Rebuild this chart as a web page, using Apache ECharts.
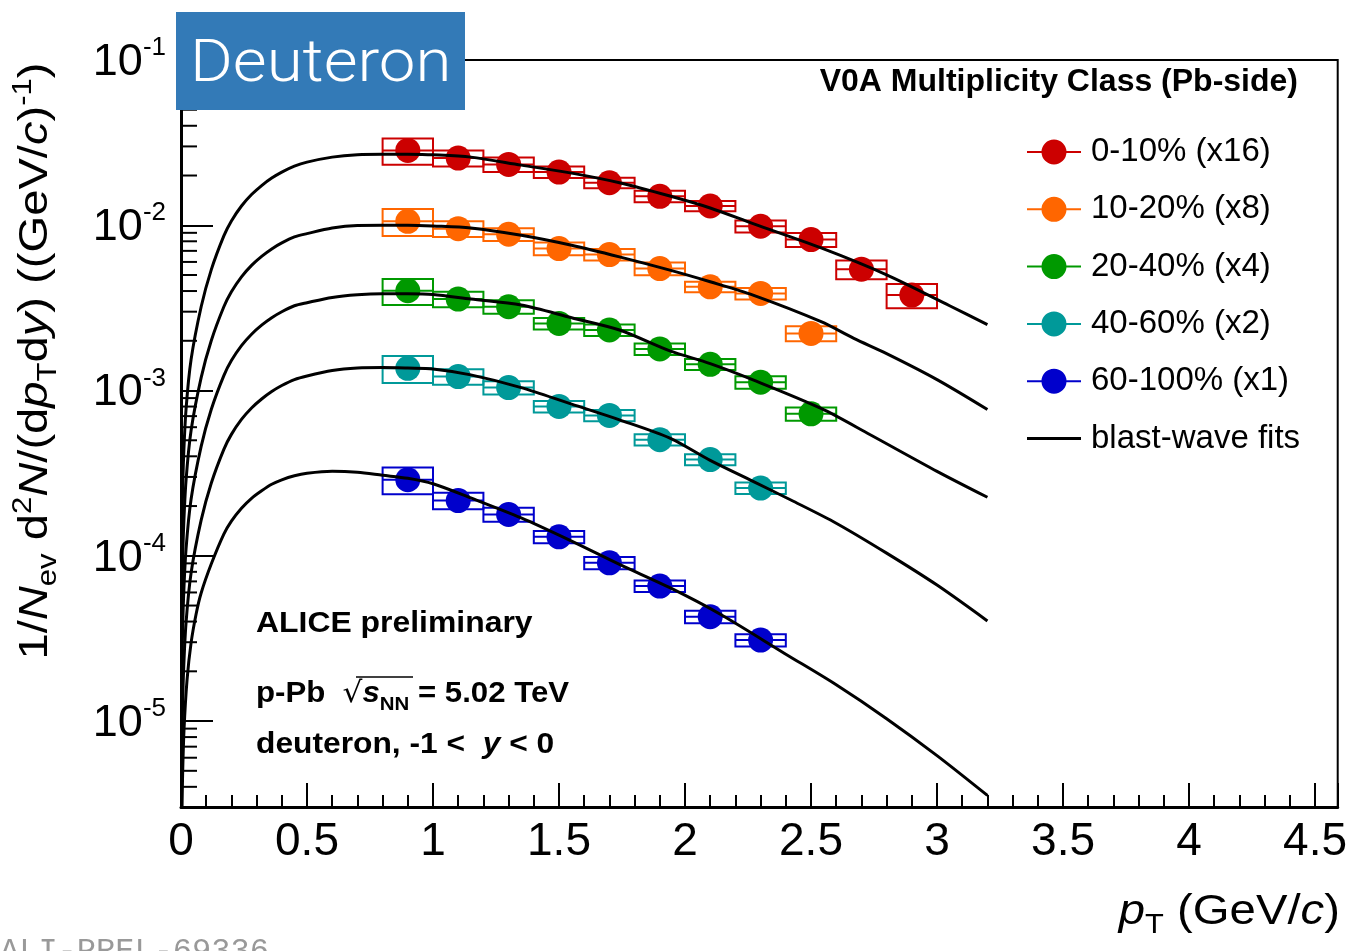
<!DOCTYPE html>
<html>
<head>
<meta charset="utf-8">
<script src="https://cdn.jsdelivr.net/npm/echarts@6/dist/echarts.min.js"></script>
<style>
  html, body { margin: 0; padding: 0; background: #fff; }
  #chart { width: 1350px; height: 951px; }
</style>
</head>
<body>
<div id="chart"></div>
<script>
// pT bin centres of the measured deuteron points (GeV/c) and half bin width
const ptCentres = [0.9, 1.1, 1.3, 1.5, 1.7, 1.9, 2.1, 2.3, 2.5, 2.7, 2.9];
const ptHalfWidth = 0.1;

// Scaled spectra 1/Nev d2N/(dpT dy) per V0A multiplicity class
const yield0to10   = [0.02836, 0.02549, 0.02334, 0.02098, 0.01808, 0.01497, 0.01308, 0.00986, 0.00819, 0.00542, 0.00378];
const yield10to20  = [0.01057, 0.00954, 0.00882, 0.00723, 0.00665, 0.00547, 0.00424, 0.00387, 0.002217];
const yield20to40  = [0.004014, 0.003576, 0.003213, 0.002547, 0.002324, 0.001785, 0.001441, 0.001122, 0.000723];
const yield40to60  = [0.001363, 0.001215, 0.001042, 0.000801, 0.000707, 0.000504, 0.000382, 0.000257];
const yield60to100 = [0.000289, 0.0002159, 0.0001778, 0.0001302, 0.0000907, 0.0000656, 0.0000428, 0.0000309];

// Relative systematic uncertainties (box half-heights)
const sys0to10   = [0.18, 0.11, 0.10, 0.08, 0.074, 0.08, 0.072, 0.083, 0.097, 0.13, 0.167];
const sys10to20  = [0.185, 0.11, 0.088, 0.088, 0.08, 0.09, 0.074, 0.08, 0.104];
const sys20to40  = [0.18, 0.107, 0.093, 0.08, 0.079, 0.08, 0.076, 0.086, 0.093];
const sys40to60  = [0.185, 0.108, 0.093, 0.08, 0.079, 0.079, 0.076, 0.08];
const sys60to100 = [0.185, 0.115, 0.097, 0.086, 0.086, 0.079, 0.086, 0.086];

// Blast-wave fit curves (pT, value)
const fitPt0to10 = [0.0025, 0.005, 0.01, 0.02, 0.04, 0.08, 0.12, 0.17, 0.2, 0.24, 0.28, 0.32, 0.36, 0.4, 0.45, 0.5, 0.6, 0.7, 0.8, 0.9, 1.0, 1.15, 1.35, 1.55, 1.74, 1.94, 2.1, 2.27, 2.54, 2.8, 3.05, 3.2];
const fit0to10   = [9.55e-5, 1.913e-4, 3.833e-4, 7.68e-4, 1.539e-3, 3.213e-3, 5.374e-3, 8.618e-3, 0.01062, 0.01308, 0.01534, 0.01739, 0.0193, 0.02098, 0.02279, 0.0241, 0.02584, 0.02675, 0.02693, 0.0269, 0.02668, 0.02584, 0.02311, 0.02068, 0.01808, 0.01502, 0.01272, 0.01023, 0.00729, 0.005013, 0.003258, 0.002502];

const fitPt10to20 = [0.0025, 0.005, 0.01, 0.02, 0.04, 0.08, 0.12, 0.17, 0.2, 0.24, 0.28, 0.32, 0.36, 0.4, 0.45, 0.5, 0.6, 0.7, 0.8, 0.9, 1.0, 1.15, 1.35, 1.55, 1.74, 1.94, 2.1, 2.27, 2.54, 2.67, 2.8, 3.0, 3.2];
const fit10to20   = [3.56e-5, 7.13e-5, 1.429e-4, 2.863e-4, 5.737e-4, 1.198e-3, 2.003e-3, 3.213e-3, 3.959e-3, 4.876e-3, 5.719e-3, 6.483e-3, 7.195e-3, 7.821e-3, 8.496e-3, 8.9e-3, 9.63e-3, 9.97e-3, 1.0e-2, 1.0e-2, 9.9e-3, 9.63e-3, 8.7e-3, 7.57e-3, 6.44e-3, 5.35e-3, 4.55e-3, 3.78e-3, 2.61e-3, 2.068e-3, 1.673e-3, 1.165e-3, 7.68e-4];

const fitPt20to40 = [0.0025, 0.005, 0.01, 0.02, 0.04, 0.08, 0.12, 0.17, 0.2, 0.24, 0.28, 0.32, 0.36, 0.4, 0.45, 0.5, 0.6, 0.7, 0.8, 0.9, 1.0, 1.15, 1.35, 1.55, 1.74, 1.94, 2.1, 2.27, 2.54, 2.735, 3.0, 3.2];
const fit20to40   = [1.365e-5, 2.734e-5, 5.477e-5, 1.0975e-4, 2.199e-4, 4.591e-4, 7.679e-4, 1.2315e-3, 1.5176e-3, 1.869e-3, 2.192e-3, 2.485e-3, 2.758e-3, 2.998e-3, 3.257e-3, 3.4e-3, 3.66e-3, 3.797e-3, 3.85e-3, 3.85e-3, 3.813e-3, 3.576e-3, 3.291e-3, 2.758e-3, 2.324e-3, 1.737e-3, 1.455e-3, 1.16e-3, 7.79e-4, 5.4e-4, 3.244e-4, 2.26e-4];

const fitPt40to60 = [0.0025, 0.005, 0.01, 0.02, 0.04, 0.08, 0.12, 0.17, 0.2, 0.24, 0.28, 0.32, 0.36, 0.4, 0.45, 0.5, 0.6, 0.7, 0.8, 0.9, 1.0, 1.15, 1.35, 1.55, 1.74, 1.94, 2.1, 2.27, 2.43, 2.6, 2.8, 3.0, 3.2];
const fit40to60   = [4.881e-6, 9.777e-6, 1.959e-5, 3.925e-5, 7.866e-5, 1.642e-4, 2.747e-4, 4.405e-4, 5.428e-4, 6.685e-4, 7.84e-4, 8.888e-4, 9.864e-4, 1.0723e-3, 1.1648e-3, 1.225e-3, 1.32e-3, 1.367e-3, 1.376e-3, 1.367e-3, 1.352e-3, 1.244e-3, 1.042e-3, 8.27e-4, 6.65e-4, 5.154e-4, 3.78e-4, 2.823e-4, 2.138e-4, 1.575e-4, 1.038e-4, 6.65e-5, 4.035e-5];

const fitPt60to100 = [0.003, 0.006, 0.012, 0.024, 0.04, 0.06, 0.08, 0.12, 0.17, 0.2, 0.24, 0.28, 0.32, 0.36, 0.4, 0.45, 0.5, 0.6, 0.7, 0.8, 0.9, 1.0, 1.15, 1.35, 1.55, 1.74, 1.94, 2.14, 2.4, 2.6, 2.8, 3.0, 3.2];
const fit60to100   = [2.211e-6, 4.43e-6, 8.873e-6, 1.777e-5, 2.972e-5, 4.446e-5, 5.953e-5, 8.91e-5, 1.352e-4, 1.62e-4, 1.94e-4, 2.229e-4, 2.474e-4, 2.708e-4, 2.883e-4, 3.048e-4, 3.155e-4, 3.244e-4, 3.199e-4, 3.069e-4, 2.944e-4, 2.727e-4, 2.239e-4, 1.696e-4, 1.227e-4, 8.87e-5, 6.41e-5, 4.43e-5, 2.54e-5, 1.658e-5, 1.034e-5, 6.18e-6, 3.547e-6];

// Axis tick labels
const xTickLabels = ['0', '0.5', '1', '1.5', '2', '2.5', '3', '3.5', '4', '4.5'];
const yDecades = [-5, -4, -3, -2, -1];

const classes = [
  { name: '0-10% (x16)',   color: '#cc0000', y: yield0to10,   sys: sys0to10,   fitPt: fitPt0to10,   fit: fit0to10 },
  { name: '10-20% (x8)',   color: '#ff6600', y: yield10to20,  sys: sys10to20,  fitPt: fitPt10to20,  fit: fit10to20 },
  { name: '20-40% (x4)',   color: '#009900', y: yield20to40,  sys: sys20to40,  fitPt: fitPt20to40,  fit: fit20to40 },
  { name: '40-60% (x2)',   color: '#009999', y: yield40to60,  sys: sys40to60,  fitPt: fitPt40to60,  fit: fit40to60 },
  { name: '60-100% (x1)',  color: '#0000cc', y: yield60to100, sys: sys60to100, fitPt: fitPt60to100, fit: fit60to100 }
];

const Y_MIN = 3.02e-6, Y_MAX = 0.1;
const FONT = 'Liberation Sans';

// log-axis minor ticks at 2..9 x 10^k
const yMinorTicks = [];
for (let e = -6; e <= -2; e++) {
  for (let m = 2; m <= 9; m++) {
    const v = m * Math.pow(10, e);
    if (v > Y_MIN && v < Y_MAX) yMinorTicks.push([0, v]);
  }
}

function boxItem(params, api) {
  const x = api.value(0), y = api.value(1), r = api.value(2);
  const tl = api.coord([x - ptHalfWidth, y * (1 + r)]);
  const br = api.coord([x + ptHalfWidth, y * (1 - r)]);
  const ml = api.coord([x - ptHalfWidth, y]);
  const mr = api.coord([x + ptHalfWidth, y]);
  const color = api.visual('color');
  return {
    type: 'group',
    children: [
      { type: 'rect', shape: { x: tl[0], y: tl[1], width: br[0] - tl[0], height: br[1] - tl[1] },
        style: { fill: 'none', stroke: color, lineWidth: 2 } },
      { type: 'line', shape: { x1: ml[0], y1: ml[1], x2: mr[0], y2: mr[1] },
        style: { stroke: color, lineWidth: 2 } }
    ]
  };
}

function minorTickItem(params, api) {
  const p = api.coord([0, api.value(1)]);
  return { type: 'line', shape: { x1: p[0], y1: p[1], x2: p[0] + 16, y2: p[1] },
           style: { stroke: '#000', lineWidth: 2 } };
}

const series = [];
classes.forEach(c => {
  series.push({
    type: 'custom', name: c.name + ' sys', renderItem: boxItem, z: 2,
    itemStyle: { color: c.color },
    data: c.y.map((v, i) => [ptCentres[i], v, c.sys[i]])
  });
});
classes.forEach(c => {
  series.push({
    type: 'scatter', name: c.name, symbol: 'circle', symbolSize: 25, z: 3,
    itemStyle: { color: c.color, opacity: 1 },
    data: c.y.map((v, i) => [ptCentres[i], v])
  });
});
classes.forEach(c => {
  series.push({
    type: 'line', name: 'blast-wave fits', showSymbol: false, symbol: 'none', z: 4,
    smooth: 0.3,
    lineStyle: { color: '#000', width: 3 }, itemStyle: { color: '#000' },
    data: c.fitPt.map((x, i) => [x, c.fit[i]])
  });
});
series.push({
  type: 'custom', name: 'yMinorTicks', renderItem: minorTickItem, z: 5, silent: true,
  data: yMinorTicks
});

const markerIcon = 'path://M0,12 L54,12 L54,14 L0,14 Z M27,0.5 A12.5,12.5 0 1 1 26.99,0.5 Z M0,0 L0.01,0 L0,0.01 Z M0,26 L0.01,26 L0,25.99 Z';
const lineIcon = 'path://M0,11.5 L54,11.5 L54,14.5 L0,14.5 Z M0,0 L0.01,0 L0,0.01 Z M0,26 L0.01,26 L0,25.99 Z';

const option = {
  animation: false,
  backgroundColor: '#fff',
  grid: { left: 181, right: 10, top: 60, bottom: 144, show: true, borderColor: '#000', borderWidth: 2, backgroundColor: '#fff' },
  xAxis: {
    type: 'value', min: 0, max: 4.59, interval: 0.5,
    axisLine: { show: true, lineStyle: { color: '#000', width: 3 } },
    axisTick: { show: true, inside: true, length: 24, lineStyle: { color: '#000', width: 2 } },
    minorTick: { show: true, splitNumber: 5, length: 12, lineStyle: { color: '#000', width: 2 } },
    splitLine: { show: false },
    axisLabel: {
      showMaxLabel: false, margin: 12, color: '#000', fontFamily: FONT, fontSize: 46,
      formatter: v => xTickLabels[Math.round(v / 0.5)] || ''
    }
  },
  yAxis: {
    type: 'log', logBase: 10, min: Y_MIN, max: Y_MAX,
    axisLine: { show: true, lineStyle: { color: '#000', width: 3 } },
    axisTick: { show: true, inside: true, length: 32, lineStyle: { color: '#000', width: 2 } },
    splitLine: { show: false },
    axisLabel: {
      showMinLabel: false, margin: 15, color: '#000',
      formatter: v => {
        const e = Math.round(Math.log10(v));
        if (Math.abs(Math.log10(v) - e) > 1e-6 || yDecades.indexOf(e) < 0) return '';
        return '{b|10}{s|' + e + '}';
      },
      rich: {
        b: { fontFamily: FONT, fontSize: 45, color: '#000', lineHeight: 50, verticalAlign: 'bottom' },
        s: { fontFamily: FONT, fontSize: 26, color: '#000', lineHeight: 30, verticalAlign: 'top' }
      }
    }
  },
  legend: {
    orient: 'vertical', left: 1027, top: 135.5, padding: 0, itemWidth: 54, itemHeight: 26, itemGap: 24.3,
    selectedMode: false,
    data: classes.map(c => ({ name: c.name, icon: markerIcon })).concat([{ name: 'blast-wave fits', icon: lineIcon }]),
    textStyle: { fontFamily: FONT, fontSize: 33, color: '#000', lineHeight: 26, padding: [0, 0, 0, 5] }
  },
  graphic: [
    { type: 'rect', z: 100, shape: { x: 176, y: 12, width: 289, height: 98 }, style: { fill: '#337ab7' } },
    { type: 'text', z: 101, x: 190, y: 66, scaleX: 1.09, style: { text: 'Deuteron', fill: '#fff', font: '300 60px Roboto', verticalAlign: 'middle' } },
    { type: 'text', z: 50, x: 1298, y: 82, style: { text: 'V0A Multiplicity Class (Pb-side)', fill: '#000', font: 'bold 32px "Liberation Sans"', align: 'right', verticalAlign: 'middle' } },
    { type: 'text', z: 50, x: 256, y: 624, scaleX: 1.1, style: { text: 'ALICE preliminary', fill: '#000', font: 'bold 29px "Liberation Sans"', verticalAlign: 'middle' } },
    { type: 'text', z: 50, x: 256, y: 694, scaleX: 1.075, style: {
        text: '{b|p-Pb  }{r|√}{i|s}{sub|NN}{b| = 5.02 TeV}', verticalAlign: 'middle',
        rich: {
          b: { font: 'bold 29px "Liberation Sans"', fill: '#000', lineHeight: 40 },
          r: { font: '29px "DejaVu Sans"', fill: '#000', lineHeight: 40 },
          i: { font: 'italic bold 29px "Liberation Sans"', fill: '#000', lineHeight: 40 },
          sub: { font: 'bold 19px "Liberation Sans"', fill: '#000', lineHeight: 22, verticalAlign: 'bottom' }
        } } },
    { type: 'line', z: 50, shape: { x1: 356, y1: 677, x2: 413, y2: 677 }, style: { stroke: '#000', lineWidth: 1.5 } },
    { type: 'text', z: 50, x: 256, y: 745, scaleX: 1.095, style: {
        text: '{b|deuteron, -1 <  }{i|y}{b| < 0}', verticalAlign: 'middle',
        rich: {
          b: { font: 'bold 29px "Liberation Sans"', fill: '#000' },
          i: { font: 'italic bold 29px "Liberation Sans"', fill: '#000' }
        } } },
    { type: 'text', z: 50, x: 36, y: 361, rotation: Math.PI / 2, scaleX: 1.15, style: {
        text: '{n|1/}{i|N}{sub|ev}{n| d}{sup|2}{i|N}{n|/(d}{i|p}{sub|T}{n|d}{i|y}{n|) ((GeV/}{i|c}{n|)}{sup|-1}{n|)}',
        align: 'center', verticalAlign: 'middle',
        rich: {
          n: { font: '41px "Liberation Sans"', fill: '#000', lineHeight: 52 },
          i: { font: 'italic 41px "Liberation Sans"', fill: '#000', lineHeight: 52 },
          sub: { font: '27px "Liberation Sans"', fill: '#000', lineHeight: 26, verticalAlign: 'bottom' },
          sup: { font: '27px "Liberation Sans"', fill: '#000', lineHeight: 26, verticalAlign: 'top' }
        } } },
    { type: 'text', z: 50, x: 1340, y: 912, scaleX: 1.1, style: {
        text: '{i|p}{sub|T}{n| (GeV/}{i|c}{n|)}', align: 'right', verticalAlign: 'middle',
        rich: {
          n: { font: '43px "Liberation Sans"', fill: '#000', lineHeight: 54 },
          i: { font: 'italic 43px "Liberation Sans"', fill: '#000', lineHeight: 54 },
          sub: { font: '28px "Liberation Sans"', fill: '#000', lineHeight: 26, verticalAlign: 'bottom' }
        } } },
    { type: 'text', z: 50, x: 0, y: 936, style: { text: 'ALI-PREL-69336', fill: '#999999', font: '32px "Liberation Mono"', verticalAlign: 'top' } }
  ],
  series: series
};

const chart = echarts.init(document.getElementById('chart'), null, { renderer: 'canvas' });
chart.setOption(option);
</script>
</body>
</html>
